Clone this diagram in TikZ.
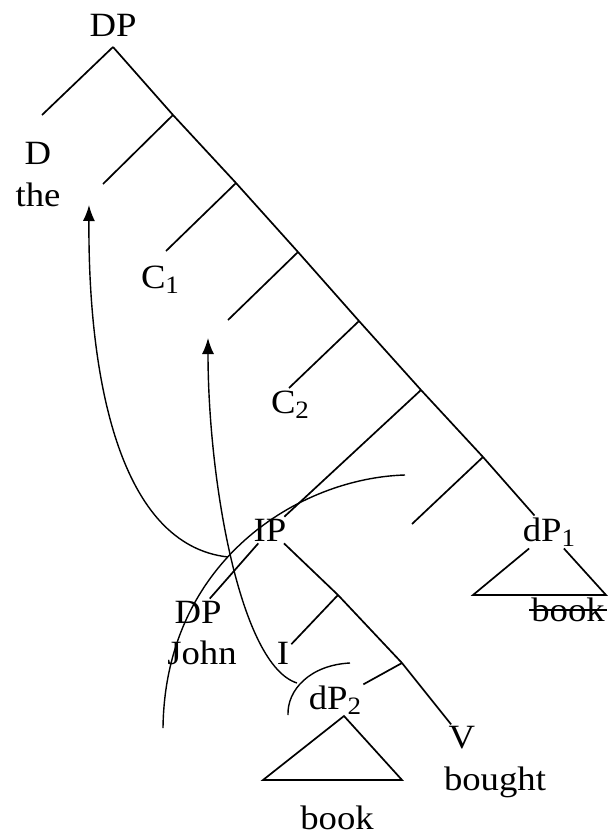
\documentclass[tikz,border=0pt]{standalone}
\usepackage{fontspec}
\setmainfont{Liberation Serif}[FakeStretch=1.08]
\usetikzlibrary{arrows.meta}
\newcommand{\lowsub}[1]{\raisebox{-5pt}{\fontsize{25}{25}\selectfont #1}}
\begin{document}
\begin{tikzpicture}[x=1pt,y=-1pt,
  lbl/.style={inner sep=2pt, font=\fontsize{34}{40}\selectfont},
  edge/.style={line width=1.7pt},
  curveline/.style={line width=1.4pt},
  mv/.style={line width=1.4pt, -{Latex[length=16pt,width=12pt]}}]
\useasboundingbox (0,0) rectangle (608,838);
% labels
\node[lbl] (DPt) at (113,25) {DP};
\node[lbl] (D) at (38,153) {D};
\node[lbl] (the) at (38,195) {the};
\node[lbl] (C1) at (160,280) {C\lowsub{1}};
\node[lbl] (C2) at (290,405) {C\lowsub{2}};
\node[lbl] (IP) at (270,530) {IP};
\node[lbl] (dP1) at (549,532) {dP\lowsub{1}};
\node[lbl] (DPj) at (198,612) {DP};
\node[lbl] (John) at (202,653) {John};
\node[lbl] (I) at (283,653) {I};
\node[lbl] (dP2) at (335,700) {dP\lowsub{2}};
\node[lbl] (V) at (462,738) {V};
\node[lbl] (bought) at (495,782) {bought};
\node[lbl] (bk2) at (337,818) {book};
\node[lbl] (bk1) at (568,610) {book};
% tree points
\coordinate (a0) at (113,47);
\coordinate (dend) at (42,115);
\coordinate (s1) at (173,115);
\coordinate (s2) at (236,183);
\coordinate (s3) at (298,252);
\coordinate (s4) at (359,321);
\coordinate (s5) at (421,390);
\coordinate (s6) at (483,457);
\coordinate (b1) at (103,184);
\coordinate (b2) at (166,251);
\coordinate (b3) at (228,320);
\coordinate (b4) at (289,388);
\coordinate (b6) at (412,524);
\coordinate (t1) at (338,595);
\coordinate (t2) at (402,663);
\coordinate (ap2) at (344,716);
\coordinate (L2) at (263,780);
\coordinate (R2) at (402,780);
\coordinate (L1) at (473,595);
\coordinate (R1) at (606,595);
% tree
\draw[edge] (a0) -- (dend);
\draw[edge] (a0) -- (s1) -- (s2) -- (s3) -- (s4) -- (s5) -- (s6) -- (dP1);
\draw[edge] (s1) -- (b1);
\draw[edge] (s2) -- (b2);
\draw[edge] (s3) -- (b3);
\draw[edge] (s4) -- (b4);
\draw[edge] (s6) -- (b6);
\draw[edge] (s5) -- (IP);
\draw[edge] (IP) -- (DPj);
\draw[edge] (IP) -- (t1) -- (t2) -- (V);
\draw[edge] (t1) -- (I);
\draw[edge] (t2) -- (dP2);
\draw[edge] (ap2) -- (L2) -- (R2) -- cycle;
\draw[edge] (dP1) -- (L1) -- (R1) -- (dP1);
\draw[line width=1.4pt] (bk1.west) -- (bk1.east);
% movement arrows and arcs
\coordinate (m1) at (228,557);
\coordinate (m1t) at (89,205);
\coordinate (m2) at (297,683);
\coordinate (m2t) at (208,338);
\coordinate (arcA) at (405,475);
\coordinate (arcB) at (163,728);
\coordinate (arcC) at (350,663);
\coordinate (arcD) at (288,715);
\draw[mv] (m1) .. controls (120,545) and (88,380) .. (m1t);
\draw[mv] (m2) .. controls (240,665) and (208,480) .. (m2t);
\draw[curveline] (arcA) .. controls (300,478) and (165,560) .. (arcB);
\draw[curveline] (arcC) .. controls (310,665) and (287,690) .. (arcD);
\end{tikzpicture}
\end{document}
